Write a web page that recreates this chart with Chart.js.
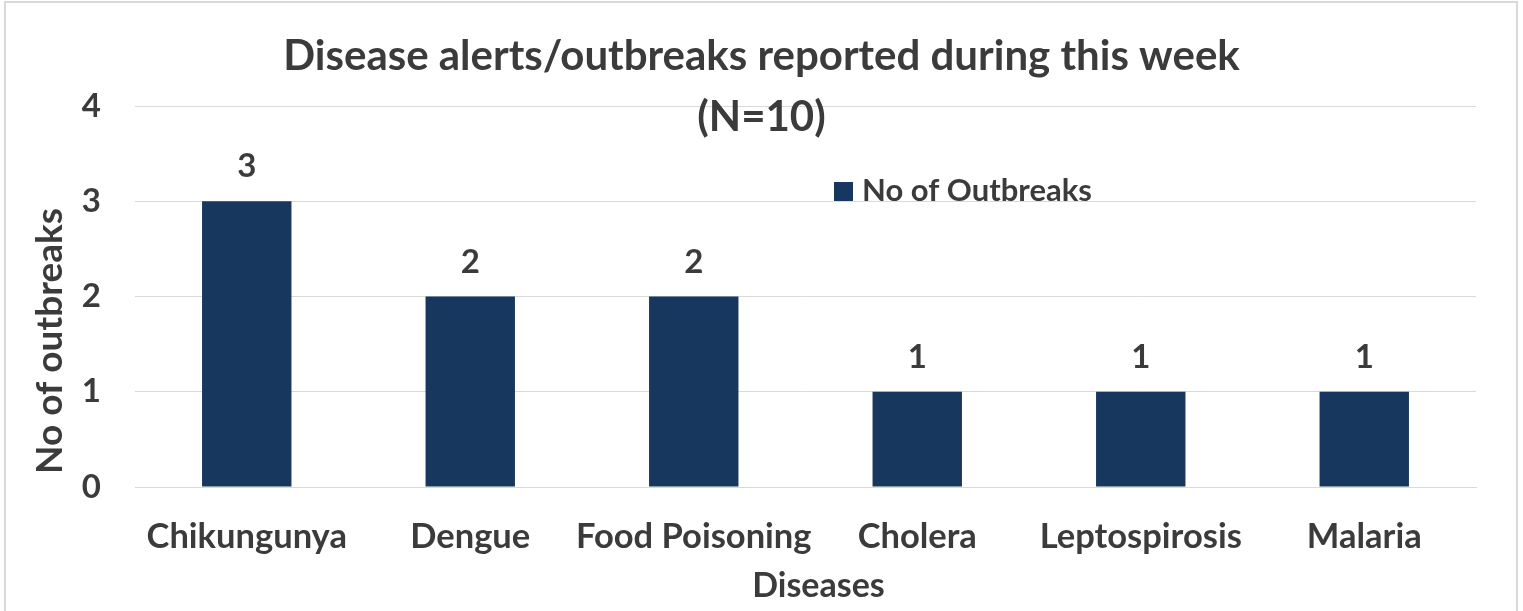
<!DOCTYPE html>
<html>
<head>
<meta charset="utf-8">
<script src="https://cdn.jsdelivr.net/npm/chart.js@4/dist/chart.umd.min.js"></script>
<style>
html, body { margin: 0; padding: 0; background: #fff; overflow: hidden; }
#wrap { position: relative; width: 1523px; height: 611px; }
#frame { position: absolute; left: 4px; top: 1px; width: 1514px; height: 660px; border: 2px solid #d9d9d9; box-sizing: border-box; pointer-events: none; }
canvas { position: absolute; left: 0; top: 0; }
</style>
</head>
<body>
<div id="wrap">
    <canvas id="chart" width="1523" height="611"></canvas>
    <div id="frame"></div>
</div>
<script>
// chart data
const diseases = ['Chikungunya', 'Dengue', 'Food Poisoning', 'Cholera', 'Leptospirosis', 'Malaria'];
const outbreaks = [3, 2, 2, 1, 1, 1];
const yTicks = [0, 1, 2, 3, 4];
const titleLines = ['Disease alerts/outbreaks reported during this week', '(N=10)'];
const seriesName = 'No of Outbreaks';
const xTitle = 'Diseases';
const yTitle = 'No of outbreaks';

const textColor = '#3b3b3b';
const barColor = '#17375e';
const fontName = 'Lato';

// title, axis titles, value labels and legend drawn on top
const extras = {
    id: 'extras',
    afterDraw(chart) {
        const ctx = chart.ctx;
        const area = chart.chartArea;
        ctx.save();
        ctx.fillStyle = textColor;
        ctx.textBaseline = 'alphabetic';

        //Title
        ctx.font = 'bold 42px ' + fontName;
        ctx.textAlign = 'center';
        const cx = chart.width / 2;
        ctx.fillText(titleLines[0], cx, 70);
        ctx.fillText(titleLines[1], cx, 131);

        //Value labels above bars
        ctx.font = 'bold 33px ' + fontName;
        const meta = chart.getDatasetMeta(0);
        meta.data.forEach((bar, i) => {
            ctx.fillText(String(outbreaks[i]), bar.x, bar.y - 24);
        });

        //Axis titles
        ctx.font = 'bold 34px ' + fontName;
        ctx.fillText(xTitle, (area.left + area.right) / 2 + 13, 597);
        ctx.save();
        ctx.translate(62, 341);
        ctx.rotate(-Math.PI / 2);
        ctx.font = 'bold 37px ' + fontName;
        ctx.fillText(yTitle, 0, 0);
        ctx.restore();

        //Legend
        ctx.fillStyle = barColor;
        ctx.fillRect(834, 182, 19, 19);
        ctx.fillStyle = textColor;
        ctx.font = 'bold 31px ' + fontName;
        ctx.textAlign = 'left';
        ctx.fillText(seriesName, 862, 201);
        ctx.restore();
    }
};

new Chart(document.getElementById('chart'), {
    type: 'bar',
    data: {
        labels: diseases,
        datasets: [{
            label: seriesName,
            data: outbreaks,
            backgroundColor: barColor,
            categoryPercentage: 1,
            barPercentage: 0.4
        }]
    },
    options: {
        responsive: false,
        animation: false,
        layout: { padding: { left: 0, right: 47, top: 106, bottom: 0 } },
        plugins: {
            legend: { display: false },
            title: { display: false },
            tooltip: { enabled: false }
        },
        scales: {
            x: {
                grid: { display: false, drawTicks: false },
                border: { display: true, color: '#d9d9d9', width: 1 },
                ticks: {
                    color: textColor,
                    font: { family: fontName, size: 34.5, weight: 'bold' },
                    padding: 29,
                    maxRotation: 0,
                    autoSkip: false
                },
                afterFit: (scale) => { scale.height = 124; }
            },
            y: {
                min: 0,
                max: 4,
                afterBuildTicks: (scale) => { scale.ticks = yTicks.map(v => ({ value: v })); },
                grid: { color: '#d9d9d9', lineWidth: 1, drawTicks: false },
                border: { display: false },
                ticks: {
                    color: textColor,
                    font: { family: fontName, size: 33, weight: 'bold' },
                    padding: 34
                },
                afterFit: (scale) => { scale.width = 135; }
            }
        }
    },
    plugins: [extras]
});
</script>
</body>
</html>
